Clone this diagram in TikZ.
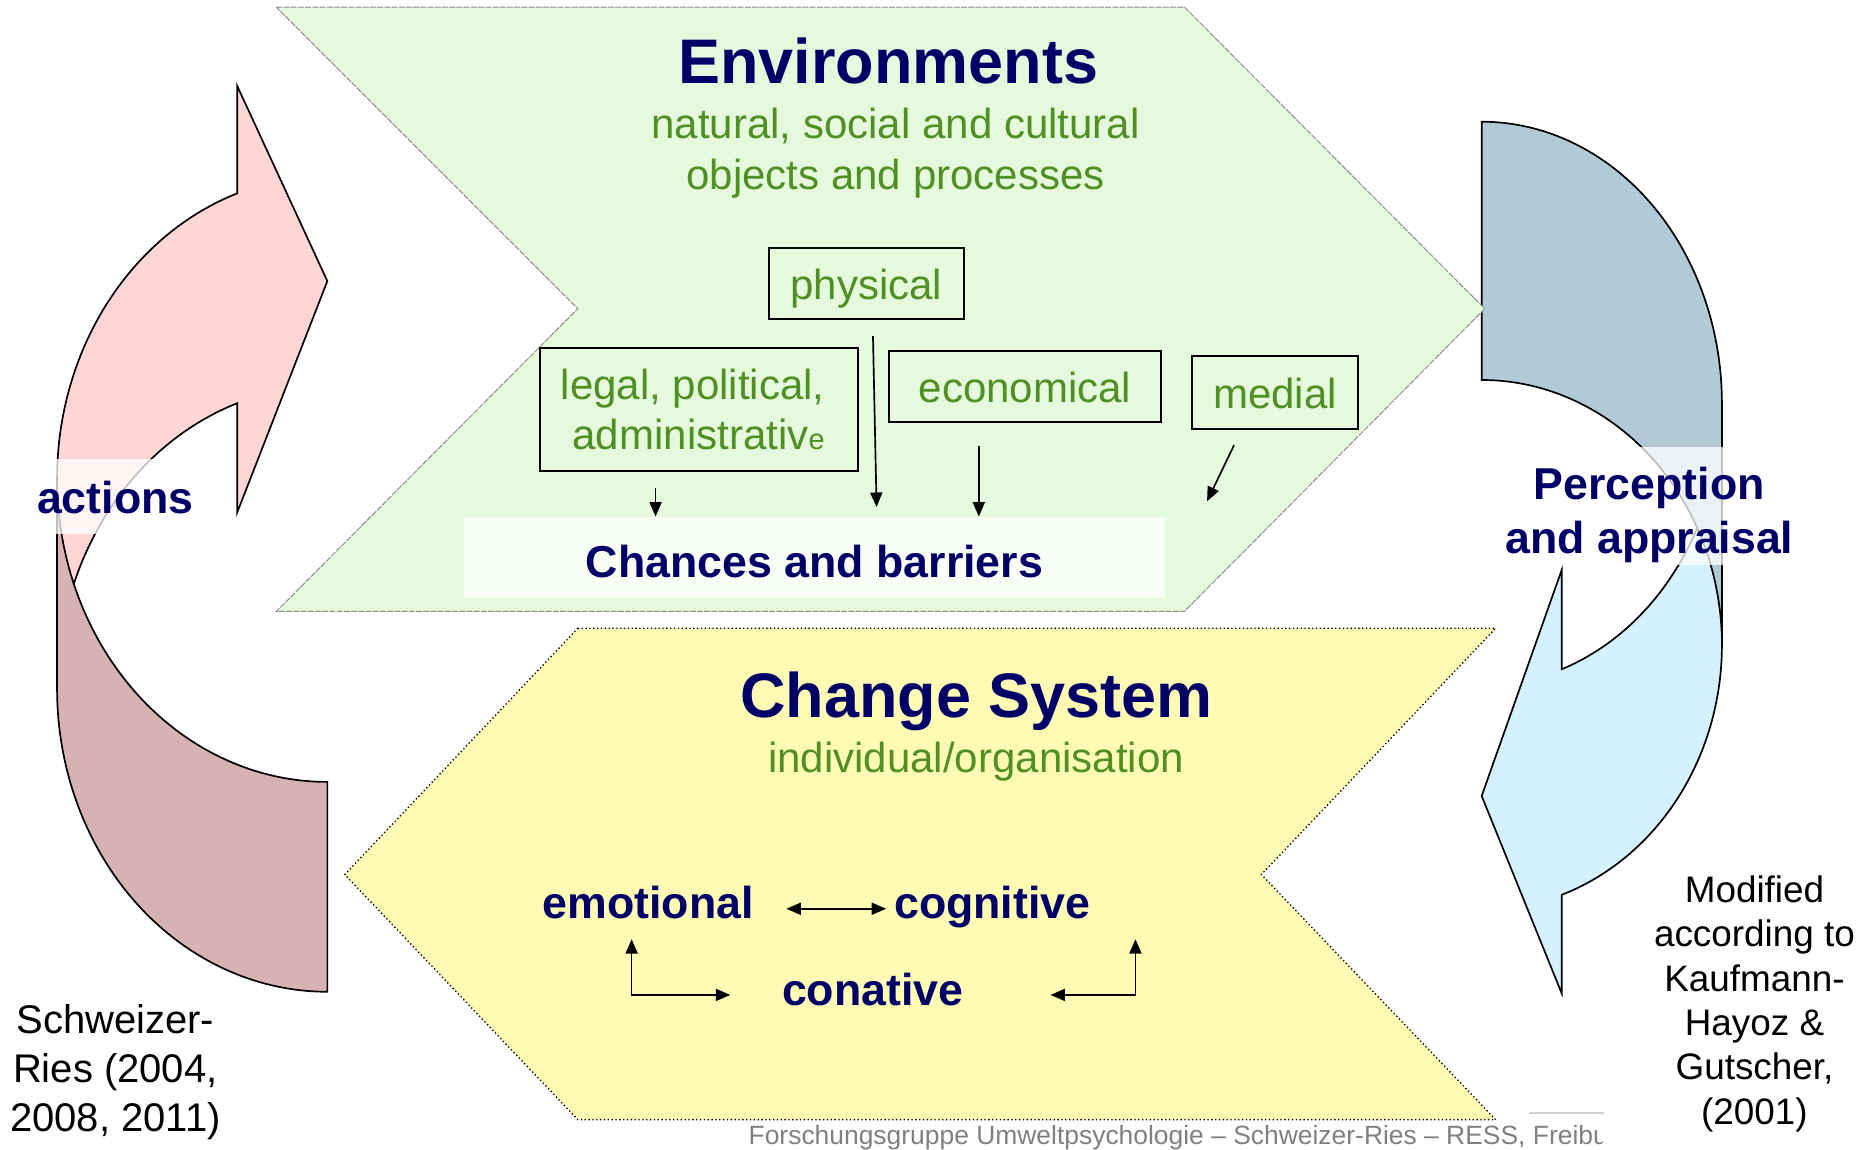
\documentclass[tikz,border=0pt]{standalone}
\usepackage{fontspec}
\setmainfont{Liberation Sans}
\usetikzlibrary{arrows.meta}
\definecolor{envgreen}{HTML}{E5F9DC}
\definecolor{envedge}{HTML}{858F85}
\definecolor{chyellow}{HTML}{FFFBB5}
\definecolor{actpink}{HTML}{FFD5D5}
\definecolor{actrose}{HTML}{D6B2B2}
\definecolor{percgray}{HTML}{B2C9D6}
\definecolor{percblue}{HTML}{D5F0FF}
\definecolor{navy}{HTML}{000066}
\definecolor{txtgreen}{HTML}{4F8F23}
\definecolor{footgray}{HTML}{808080}
\definecolor{rulegray}{HTML}{D0D0D0}
\begin{document}
\begin{tikzpicture}[x=1pt,y=-1pt,
  titlefont/.style={font=\fontsize{52.4pt}{62pt}\selectfont\bfseries, text=navy, inner sep=0pt},
  greenfont/.style={font=\fontsize{35pt}{42.4pt}\selectfont, text=txtgreen, inner sep=0pt, align=center},
  boldlbl/.style={font=\fontsize{37.2pt}{44.4pt}\selectfont\bfseries, text=navy, inner sep=0pt},
  envbox/.style={draw=black, line width=1.7pt, fill=envgreen, font=\fontsize{35pt}{41pt}\selectfont, text=txtgreen, inner sep=0pt, align=center},
  washbox/.style={fill=white, fill opacity=0.75, text opacity=1, inner sep=0pt},
  shapeline/.style={draw=black, line width=1.4pt, line join=miter},
  arr/.style={line width=1.4pt, -{Triangle[length=12pt,width=10pt]}},
  dblarr/.style={line width=1.4pt, {Triangle[length=12pt,width=10pt]}-{Triangle[length=12pt,width=10pt]}},
  creditL/.style={font=\fontsize{33.3pt}{40.6pt}\selectfont, text=black, inner sep=0pt, align=center},
  creditR/.style={font=\fontsize{30.7pt}{36.9pt}\selectfont, text=black, inner sep=0pt, align=center},
  footer/.style={font=\fontsize{22pt}{26pt}\selectfont, text=footgray, inner sep=0pt}
]
\useasboundingbox (0,0) rectangle (1560,956.5);

% ---- left curved arrow (actions)
\draw[shapeline, fill=actpink]
  plot[variable=\t, domain=180:250.53, samples=80] ({272.5+225*cos(\t)},{398.7+252.2*sin(\t)})
  -- (197.5,71.6) -- (272.5,234) -- (197.5,426.5) -- (197.5,335.7)
  -- plot[variable=\t, domain=250.53:180, samples=80] ({272.5+225*cos(\t)},{573.4+252.2*sin(\t)})
  -- cycle;
\draw[shapeline, fill=actrose]
  plot[variable=\t, domain=90:180, samples=80] ({272.5+225*cos(\t)},{398.7+252.2*sin(\t)})
  -- plot[variable=\t, domain=180:90, samples=80] ({272.5+225*cos(\t)},{573.4+252.2*sin(\t)})
  -- cycle;

% ---- right curved arrow (perception)
\draw[shapeline, fill=percblue]
  plot[variable=\t, domain=0:70.53, samples=80] ({1233.4+200*cos(\t)},{335.9+234.6*sin(\t)})
  -- (1300,474.5) -- (1233.4,662.6) -- (1300,826.9) -- (1300,745)
  -- plot[variable=\t, domain=70.53:0, samples=80] ({1233.4+200*cos(\t)},{536.9+220.6*sin(\t)})
  -- cycle;
\draw[shapeline, fill=percgray]
  plot[variable=\t, domain=-90:0, samples=80] ({1233.4+200*cos(\t)},{536.9+220.6*sin(\t)})
  -- plot[variable=\t, domain=0:-90, samples=80] ({1233.4+200*cos(\t)},{335.9+234.6*sin(\t)})
  -- cycle;

% ---- Environments chevron
\draw[fill=envgreen, draw=envedge, line width=0.8pt, dash pattern=on 5pt off 1pt]
  (230,6) -- (986,6) -- (1236,257) -- (986,509) -- (230,509) -- (481,257) -- cycle;

\node[titlefont, anchor=base] (envtitle) at (739.5,69.4) {Environments};
\node[greenfont, anchor=base] (envsub) at (745.5,157.7) {natural, social and cultural\\objects and processes};

\node[envbox, minimum width=162.4, minimum height=59, text height=26pt, text depth=0pt] (physical) at (721.2,235.9) {physical};
\node[envbox, minimum width=264.7, minimum height=101.9] (legal) at (581.5,340.9) {legal, political,\hspace*{9.7pt}\\administrativ{\fontsize{24pt}{24pt}\selectfont e}};
\node[envbox, minimum width=226.5, minimum height=59.3, text height=26pt, text depth=0pt] (econ) at (853.25,321.65) {economical};
\node[envbox, minimum width=138.7, minimum height=61.1, text height=26pt, text depth=0pt] (medial) at (1061.35,326.85) {medial};

\node[washbox, boldlbl, minimum width=584, minimum height=67.5, text height=34.5pt, text depth=0pt] (chances) at (678,463.75) {Chances and barriers};

\coordinate (legalS) at (545.7,406);
\coordinate (legalE) at (545.7,430);
\coordinate (physS) at (726.7,279.7);
\coordinate (physE) at (729.7,422);
\coordinate (econS) at (814.8,371);
\coordinate (econE) at (814.8,430);
\coordinate (medS) at (1027.3,370.5);
\coordinate (medE) at (1004.8,417.3);
\draw[arr] (legalS) -- (legalE);
\draw[arr] (physS) -- (physE);
\draw[arr] (econS) -- (econE);
\draw[arr] (medS) -- (medE);

% ---- Change System chevron
\draw[fill=chyellow, draw=black, line width=1.1pt, dash pattern=on 1.1pt off 2.1pt]
  (481,523) -- (1245,523) -- (1050,728) -- (1245,932) -- (481,932) -- (287,728) -- cycle;

\node[titlefont, anchor=base] (chtitle) at (812.8,597.5) {Change System};
\node[greenfont, anchor=base] (chsub) at (812.5,643.2) {individual/organisation};

\node[boldlbl, anchor=base] (emo) at (539.6,765) {emotional};
\node[boldlbl, anchor=base] (cog) at (826,765) {cognitive};
\node[boldlbl, anchor=base] (con) at (726.5,836.6) {conative};

\coordinate (emoR) at (654.6,756.5);
\coordinate (cogL) at (737.6,756.5);
\coordinate (emoB) at (525.8,781.8);
\coordinate (conL) at (607.9,828.2);
\coordinate (cogB) at (945.2,781.8);
\coordinate (conR) at (874.5,828.2);
\draw[dblarr] (emoR) -- (cogL);
\draw[dblarr] (emoB) |- (conL);
\draw[dblarr] (cogB) |- (conR);

% ---- labels on the curved arrows
\node[washbox, boldlbl, minimum width=150, minimum height=62.6, text height=28pt, text depth=0pt] (actions) at (96,413.3) {actions};
\node[washbox, minimum width=185, minimum height=98] (percbox) at (1342.5,421) {};
\node[boldlbl, align=center, anchor=base] (perc) at (1373,460.6) {Perception\\and appraisal};

% ---- credits
\node[creditL, anchor=base] (srcleft) at (96,941.8) {Schweizer-\\Ries (2004,\\2008, 2011)};
\node[creditR, anchor=base] (srcright) at (1460.5,935.7) {Modified\\according to\\Kaufmann-\\Hayoz \&\\Gutscher,\\(2001)};

% ---- footer
\draw[draw=rulegray, line width=1.5pt] (1272.8,926.5) -- (1335.3,926.5);
\begin{scope}
  \clip (600,930) rectangle (1334,960);
  \node[footer, anchor=base west] (foot) at (623,952.3) {Forschungsgruppe Umweltpsychologie – Schweizer-Ries – RESS, Freibu};
\end{scope}
\end{tikzpicture}
\end{document}
